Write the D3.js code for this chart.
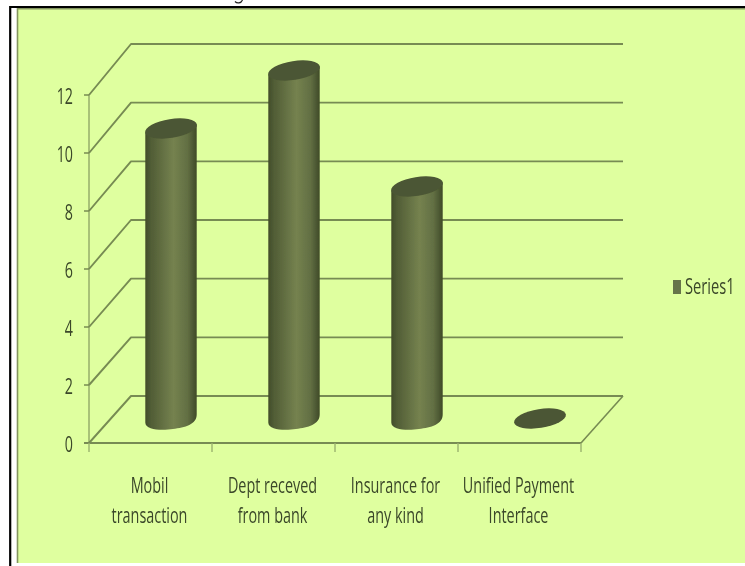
<!DOCTYPE html>
<html><head><meta charset="utf-8">
<script src="https://cdn.jsdelivr.net/npm/d3@7"></script>
<style>html,body{margin:0;padding:0;background:#fff;overflow:hidden}svg{display:block}</style>
</head><body><svg id="c" width="745" height="566"></svg>
<script>
const categories=[["Mobil","transaction"],["Dept receved","from bank"],["Insurance for","any kind"],["Unified Payment","Interface"]];
const values=[10,12,8,0];
const yTicks=[0,2,4,6,8,10,12];
const seriesName="Series1";
const svg=d3.select("#c");
const defs=svg.append("defs");
const grad=defs.append("linearGradient").attr("id","cyl");
[[0,"#414c2a"],[.1,"#505c35"],[.55,"#75824f"],[.82,"#626f43"],[1,"#3f4a28"]].forEach(s=>grad.append("stop").attr("offset",s[0]).attr("stop-color",s[1]));
defs.append("filter").attr("id","soft").append("feGaussianBlur").attr("stdDeviation",0.5);
defs.append("filter").attr("id","soft2").append("feGaussianBlur").attr("stdDeviation",0.3);
const axisColor="#9ab36e",gridColor="#778b52",textColor="#3a4729",font="'Open Sans',sans-serif";
svg.append("rect").attr("x",17).attr("y",8).attr("width",728).attr("height",555).attr("fill","#dfff9f");
svg.append("path").attr("d","M10.2 566V7H745").attr("fill","none").attr("stroke","#000").attr("stroke-width",2.2);
svg.append("path").attr("d","M17.5 563V8.7H745").attr("fill","none").attr("stroke","#83955f").attr("stroke-width",1.6);
// descender remnant of the cropped-off heading above the frame
svg.append("path").attr("d","M235 1.5C237 3.6 241 3.6 242.5 0").attr("fill","none").attr("stroke","#222").attr("stroke-width",1.2);
const y=d3.scaleLinear().domain([0,12]).range([443,95]);
const yBack=d3.scaleLinear().domain([0,12]).range([396,44]);
const x=d3.scaleBand().domain(d3.range(4)).range([89,581]);
const backShift=42;
const g=svg.append("g").attr("filter","url(#soft)");
g.append("line").attr("x1",89).attr("x2",89).attr("y1",y(12)).attr("y2",y(0)).attr("stroke",axisColor).attr("stroke-width",1.6);
yTicks.forEach(t=>{
  g.append("path").attr("fill","none").attr("stroke",gridColor).attr("stroke-width",1.9).attr("stroke-linejoin","round")
   .attr("d",`M89 ${y(t)}L${89+backShift} ${yBack(t)}H${581+backShift}`);
  g.append("line").attr("x1",84).attr("x2",89).attr("y1",y(t)).attr("y2",y(t)).attr("stroke",gridColor).attr("stroke-width",1.5);
});
g.append("line").attr("x1",84).attr("x2",581).attr("y1",y(0)).attr("y2",y(0)).attr("stroke",gridColor).attr("stroke-width",1.9);
g.append("line").attr("x1",581).attr("x2",581+backShift).attr("y1",y(0)).attr("y2",yBack(0)).attr("stroke",gridColor).attr("stroke-width",1.6);
d3.range(5).forEach(i=>{const px=89+i*x.step();
  g.append("line").attr("x1",px).attr("x2",px).attr("y1",443).attr("y2",452).attr("stroke",axisColor).attr("stroke-width",1.4);});
const rx=26.2,ry=9.4,tilt=-9;
const yBar=v=>y(v)-24.5;
values.forEach((v,i)=>{
  const cx=x(i)+x.bandwidth()/2+20.5;
  const t=yBar(v),b=yBar(0);
  if(v>0){
    g.append("path").attr("fill","url(#cyl)")
     .attr("d",`M${cx-rx+.5} ${t+4}V${b+4}C${cx-rx+.5} ${b+12} ${cx-8} ${b+12} ${cx+2} ${b+10.5}C${cx+14} ${b+9} ${cx+rx-.5} ${b+6} ${cx+rx-.5} ${b-4}V${t-4}Z`);
  }
  g.append("ellipse").attr("cx",cx).attr("cy",t).attr("rx",rx).attr("ry",ry)
   .attr("transform",`rotate(${tilt} ${cx} ${t})`).attr("fill","#4c5734");
});
const labels=svg.append("g").attr("filter","url(#soft2)");
yTicks.forEach(t=>labels.append("text").attr("text-anchor","end")
  .attr("transform",`translate(73 ${y(t)+9}) scale(0.68 1)`)
  .attr("font-family",font).attr("font-size",21).attr("fill",textColor).text(t));
categories.forEach((lines,i)=>{
  const cx=x(i)+x.bandwidth()/2-1;
  lines.forEach((l,j)=>labels.append("text").attr("text-anchor","middle")
   .attr("transform",`translate(${cx} ${493+j*30}) scale(0.655 1)`)
   .attr("font-family",font).attr("font-size",22).attr("fill",textColor).text(l));
});
svg.append("rect").attr("x",673).attr("y",280).attr("width",8).attr("height",14).attr("fill","#66744a");
labels.append("text").attr("transform","translate(685 294) scale(0.7 1)").attr("font-family",font).attr("font-size",21).attr("fill",textColor).text(seriesName);
</script></body></html>
